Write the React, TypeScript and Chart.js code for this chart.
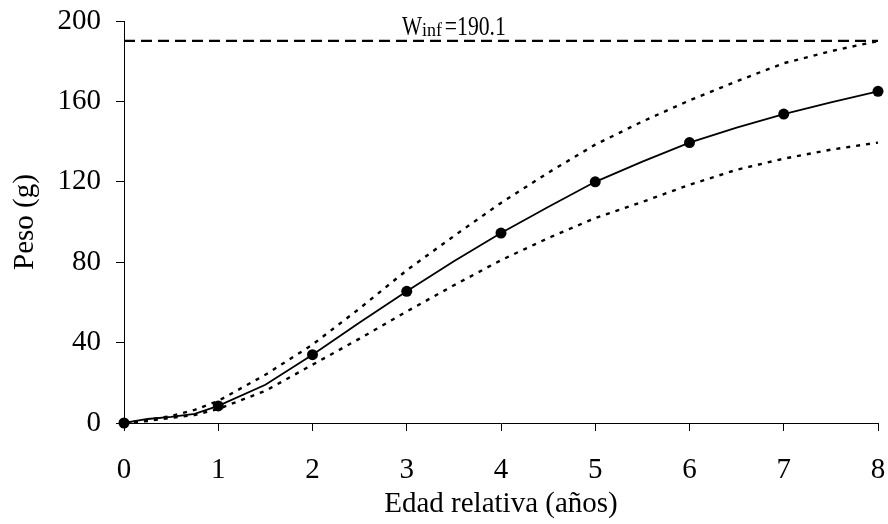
import { useEffect, useRef } from "react";
import { Chart, registerables } from "chart.js";

Chart.register(...registerables);

// Relative age (years)
const ages = [0, 0.25, 0.5, 0.75, 1, 1.5, 2, 2.5, 3, 3.5, 4, 4.5, 5, 5.5, 6, 6.5, 7, 7.5, 8];
// Mean weight (g) – solid line with markers at whole years
const meanWeight = [0, 2, 3, 4.5, 8.5, 19, 34, 50, 65.5, 80.5, 94.5, 107.5, 120, 130, 139.5, 147, 153.7, 159.5, 165];
// Upper limit (dotted)
const upperWeight = [0, 1.5, 3.5, 6.5, 11, 24, 39, 57, 76, 93, 109.5, 124.5, 138.5, 150, 160.5, 170, 179, 185, 190];
// Lower limit (dotted)
const lowerWeight = [0, 1, 2.5, 4, 7, 16, 29, 42, 55.5, 68.5, 81, 92, 102, 110, 118.5, 126, 131.5, 136, 139.5];

const W_INF = 190.1;
const wInfLabelAge = 3.5;
const xMin = 0;
const xMax = 8;
const yMin = 0;
const yMax = 200;
const yStep = 40;

const FONT = "'Liberation Serif', 'Times New Roman', serif";

const wInfLabelPlugin = {
  id: "wInfLabel",
  afterDatasetsDraw(chart: any) {
    const { ctx, scales } = chart;
    const cx = scales.x.getPixelForValue(wInfLabelAge);
    const base = scales.y.getPixelForValue(W_INF) - 6;
    const start = cx - 52;
    ctx.save();
    ctx.fillStyle = "#000";
    ctx.textBaseline = "alphabetic";
    ctx.textAlign = "left";
    ctx.font = `28px ${FONT}`;
    ctx.fillText("W", start, base, 20);
    ctx.font = `18px ${FONT}`;
    ctx.fillText("inf", start + 20, base + 1, 22);
    ctx.font = `28px ${FONT}`;
    ctx.fillText("=190.1", start + 43, base, 61);
    ctx.restore();
  },
};

export default function App() {
  const ref = useRef<HTMLCanvasElement>(null);

  useEffect(() => {
    const pts = (ys: number[]) => ages.map((a, i) => ({ x: a, y: ys[i] }));
    const tickFont = { family: FONT, size: 29 };
    const chart = new Chart(ref.current as HTMLCanvasElement, {
      type: "line",
      data: {
        datasets: [
          {
            data: pts(meanWeight),
            borderColor: "#000",
            backgroundColor: "#000",
            borderWidth: 1.8,
            pointRadius: (c: any) => (Number.isInteger(ages[c.dataIndex]) ? 5.5 : 0),
            pointBackgroundColor: "#000",
            pointBorderWidth: 0,
            tension: 0,
            clip: false,
          } as any,
          {
            data: pts(upperWeight),
            borderColor: "#000",
            borderWidth: 2.4,
            borderDash: [4, 6],
            pointRadius: 0,
            tension: 0,
            clip: false,
          },
          {
            data: pts(lowerWeight),
            borderColor: "#000",
            borderWidth: 2.4,
            borderDash: [4, 6],
            pointRadius: 0,
            tension: 0,
            clip: false,
          },
          {
            data: [
              { x: xMin, y: W_INF },
              { x: xMax, y: W_INF },
            ],
            borderColor: "#000",
            borderWidth: 2.3,
            borderDash: [11, 6],
            pointRadius: 0,
            clip: false,
          },
        ],
      },
      options: {
        responsive: false,
        animation: false,
        layout: { padding: { left: 0, right: 10, top: 21, bottom: 0 } },
        plugins: { legend: { display: false }, tooltip: { enabled: false } },
        scales: {
          x: {
            type: "linear",
            min: xMin,
            max: xMax,
            ticks: { stepSize: 1, color: "#000", font: tickFont, padding: 22 },
            grid: { drawOnChartArea: false, tickLength: 8, color: "#000" },
            border: { color: "#000", width: 1 },
            title: {
              display: true,
              text: "Edad relativa (años)",
              color: "#000",
              font: tickFont,
              padding: { top: 0, bottom: 2 },
            },
            afterFit: (s: any) => {
              s.height = 101;
              s.paddingLeft = 0;
              s.paddingRight = 0;
            },
          },
          y: {
            type: "linear",
            min: yMin,
            max: yMax,
            ticks: { stepSize: yStep, color: "#000", font: tickFont, padding: 15 },
            grid: { drawOnChartArea: false, tickLength: 8, color: "#000" },
            border: { color: "#000", width: 1 },
            title: {
              display: true,
              text: "Peso (g)",
              color: "#000",
              font: tickFont,
              padding: { top: 8, bottom: 0 },
            },
            afterFit: (s: any) => {
              s.width = 124;
              s.paddingTop = 0;
              s.paddingBottom = 0;
            },
          },
        },
      },
      plugins: [wInfLabelPlugin],
    });
    return () => chart.destroy();
  }, []);

  return (
    <div style={{ position: "absolute", left: 0, top: 0, width: 888, height: 524, background: "#fff" }}>
      <canvas ref={ref} width={888} height={524} style={{ display: "block" }} />
    </div>
  );
}
